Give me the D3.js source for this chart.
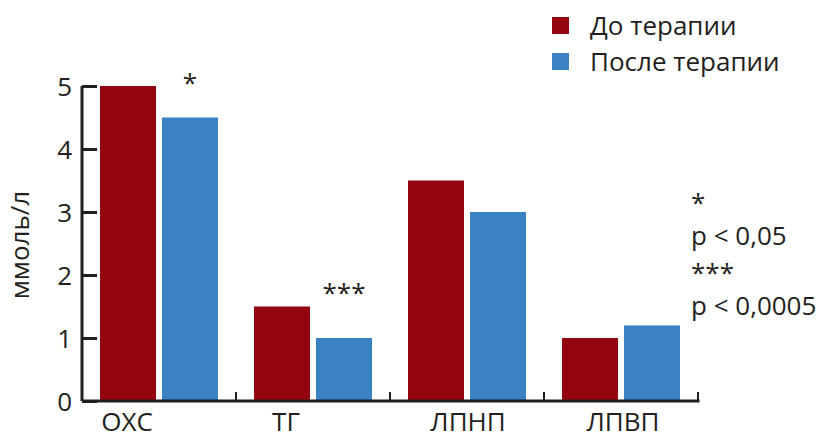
<!DOCTYPE html>
<html>
<head>
<meta charset="utf-8">
<script src="https://cdn.jsdelivr.net/npm/d3@7"></script>
<style>
  body { margin: 0; background: #fff; }
  svg { display: block; }
  text { font-family: "Open Sans", "Noto Sans", sans-serif; fill: #231f20; }
</style>
</head>
<body>
<svg id="chart" width="818" height="439"></svg>
<script>
const categories = ["ОХС", "ТГ", "ЛПНП", "ЛПВП"];
const seriesNames = ["До терапии", "После терапии"];
const before = [5.0, 1.5, 3.5, 1.0];
const after = [4.5, 1.0, 3.0, 1.2];
const yTicks = [0, 1, 2, 3, 4, 5];
const sigMarks = [{cat: "ОХС", text: "*"}, {cat: "ТГ", text: "***"}];
const noteLines = ["*", "p < 0,05", "***", "p < 0,0005"];
const colors = ["#93050f", "#3a82c4"];

const svg = d3.select("#chart");
const ink = "#231f20";
const fontSize = 26;

const x0 = d3.scaleBand().domain(categories).range([82, 698]).paddingInner(0).paddingOuter(0);
const x1 = d3.scaleBand().domain(seriesNames).range([18, 136]).paddingInner(6 / 62).paddingOuter(0);
const y = d3.scaleLinear().domain([0, 5]).range([401, 86]);

const data = categories.map((c, i) => ({cat: c, values: [before[i], after[i]]}));

// bars
const groups = svg.append("g").selectAll("g").data(data).join("g")
  .attr("transform", d => `translate(${x0(d.cat)},0)`);
groups.selectAll("rect").data(d => d.values.map((v, j) => ({s: seriesNames[j], v, j})))
  .join("rect")
  .attr("x", d => x1(d.s))
  .attr("width", x1.bandwidth())
  .attr("y", d => y(d.v))
  .attr("height", d => y(0) - y(d.v))
  .attr("fill", d => colors[d.j]);

// y axis
const yAxis = d3.axisLeft(y).tickValues(yTicks).tickFormat(d3.format("d"))
  .tickSizeInner(-15).tickSizeOuter(0).tickPadding(10);
const gy = svg.append("g").attr("transform", "translate(82,0)").call(yAxis);
gy.select(".domain").attr("stroke", ink).attr("stroke-width", 3)
  .attr("d", `M0,${y(5)}V${y(0)}`);
gy.selectAll(".tick line").attr("stroke", ink).attr("stroke-width", 3);
gy.selectAll(".tick text").attr("font-size", fontSize).attr("fill", ink)
  .attr("font-family", "Open Sans").attr("dy", "0.36em");

// x axis
const gx = svg.append("g");
gx.append("line").attr("x1", 82).attr("x2", x0.range()[1] + 1.5)
  .attr("y1", y(0)).attr("y2", y(0)).attr("stroke", ink).attr("stroke-width", 3);
gx.selectAll(".xt").data(categories.slice(1).concat(["end"])).join("line")
  .attr("class", "xt")
  .attr("x1", (d, i) => x0(categories[0]) + x0.step() * (i + 1))
  .attr("x2", (d, i) => x0(categories[0]) + x0.step() * (i + 1))
  .attr("y1", y(0)).attr("y2", y(0) - 9)
  .attr("stroke", ink).attr("stroke-width", 2);
const labelDx = [-32, -27, 1, 2];
gx.selectAll(".xl").data(categories).join("text")
  .attr("class", "xl")
  .attr("x", (d, i) => x0(d) + x0.bandwidth() / 2 + labelDx[i])
  .attr("y", 431)
  .attr("text-anchor", "middle")
  .attr("font-size", fontSize)
  .text(d => d);

// y label
svg.append("text")
  .attr("transform", "translate(29,245) rotate(-90)")
  .attr("text-anchor", "middle")
  .attr("font-size", fontSize)
  .text("ммоль/л");

// significance marks
const sigDy = {"ОХС": -42, "ТГ": -52};
svg.selectAll(".sig").data(sigMarks).join("text")
  .attr("class", "sig")
  .attr("x", d => x0(d.cat) + x1(seriesNames[1]) + x1.bandwidth() / 2)
  .attr("y", d => y(after[categories.indexOf(d.cat)]) + sigDy[d.cat] + 16)
  .attr("text-anchor", "middle")
  .attr("font-size", fontSize)
  .text(d => d.text);

// legend
const lg = svg.append("g").attr("transform", "translate(552,17)");
seriesNames.forEach((s, i) => {
  lg.append("rect").attr("x", 0).attr("y", i * 36).attr("width", 17).attr("height", 17).attr("fill", colors[i]);
  lg.append("text").attr("x", 38).attr("y", i * 36 + 18).attr("font-size", fontSize).text(s);
});

// notes
const noteY = [212, 245, 282, 315];
svg.selectAll(".note").data(noteLines).join("text")
  .attr("class", "note")
  .attr("x", 691)
  .attr("y", (d, i) => noteY[i])
  .attr("font-size", fontSize)
  .text(d => d);
</script>
</body>
</html>
